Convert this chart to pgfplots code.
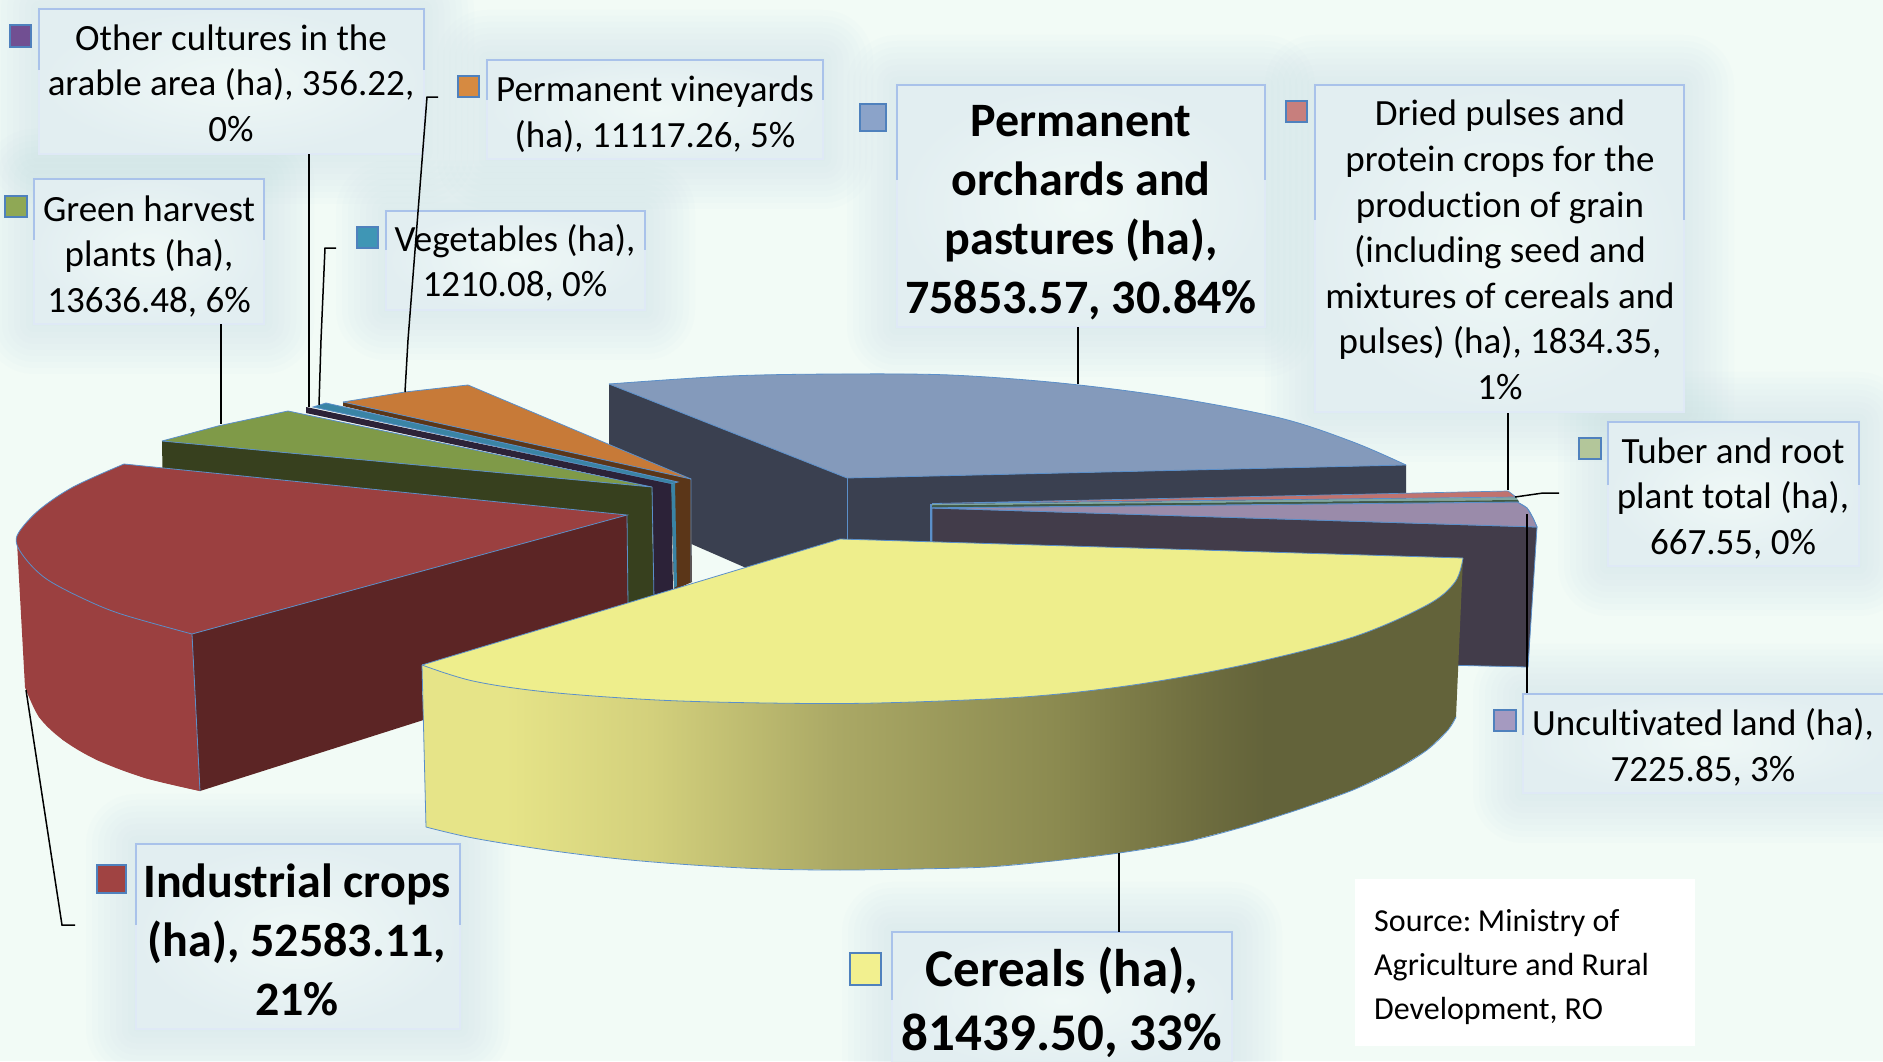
\documentclass[border=0pt]{standalone}
\usepackage{pgfplots}
\pgfplotsset{compat=1.18}
\usepackage{fontspec}
\setmainfont{Carlito}[Ligatures=NoCommon]
\definecolor{bgc}{HTML}{F2FBF6}
\definecolor{glowc}{HTML}{C4DCE6}
\definecolor{boxc}{HTML}{EFF8F6}
\definecolor{boxo}{HTML}{E2EEF1}
\definecolor{boxtop}{HTML}{A9C2EA}
\definecolor{boxbot}{HTML}{DFE9F6}
\definecolor{edgeb}{HTML}{5B8FC9}
\definecolor{redtop}{HTML}{9B4040}
\definecolor{reddark}{HTML}{5C2525}
\definecolor{greentop}{HTML}{7F9A48}
\definecolor{greendark}{HTML}{37401E}
\definecolor{browndark}{HTML}{5B3618}
\definecolor{orangetop}{HTML}{C77A38}
\definecolor{vegblue}{HTML}{3A84A5}
\definecolor{purpledark}{HTML}{2C2238}
\definecolor{orchtop}{HTML}{849ABB}
\definecolor{orchdark}{HTML}{3A4050}
\definecolor{lilatop}{HTML}{9A8BAA}
\definecolor{liladark}{HTML}{423C4A}
\definecolor{yeltop}{HTML}{EEEE8C}
\definecolor{ya}{HTML}{E6E488}
\definecolor{yb}{HTML}{D3D07C}
\definecolor{yc}{HTML}{AAA865}
\definecolor{yd}{HTML}{8B8A50}
\definecolor{ye}{HTML}{6E6D3F}
\definecolor{yf}{HTML}{63633A}
\definecolor{pinkc}{HTML}{C0736F}
\definecolor{sliver}{HTML}{7FA6A0}
\definecolor{sliverg}{HTML}{3F5A45}
\definecolor{kpurple}{HTML}{714F92}
\definecolor{korange}{HTML}{D68A41}
\definecolor{kgreen}{HTML}{8FA855}
\definecolor{kblue}{HTML}{3F96B5}
\definecolor{korch}{HTML}{8BA3C9}
\definecolor{kpink}{HTML}{C77F7D}
\definecolor{ktuber}{HTML}{B3C69A}
\definecolor{klila}{HTML}{A59AC0}
\definecolor{kred}{HTML}{A04342}
\definecolor{kyel}{HTML}{F2F08F}
\definecolor{kedge}{HTML}{4F81BD}
\pgfdeclarehorizontalshading{yside}{100bp}{color(0bp)=(ya);color(25bp)=(ya);color(29bp)=(ya);color(36bp)=(yb);color(45bp)=(yc);color(55.5bp)=(yd);color(62.5bp)=(ye);color(65.5bp)=(yf);color(100bp)=(yf)}
\newcommand\glow[4]{\foreach \d in {50,44,38,32,26,20,14,8,2}{\fill[glowc,opacity=0.05,rounded corners=\d pt] ({(#1-\d)*1pt},{(1061-#2+\d)*1pt}) rectangle ({(#3+\d)*1pt},{(1061-#4-\d)*1pt});}}
\newcommand\poly[2]{\addplot[fill=#1,draw=none,forget plot] coordinates {#2} --cycle;}
\newcommand\polye[2]{\addplot[fill=#1,draw=edgeb,line width=.8pt,forget plot] coordinates {#2} --cycle;}
\newcommand\arcf[2]{\addplot[fill=#1,draw=edgeb,line width=.8pt,smooth,tension=.55,forget plot] coordinates {#2};}
\newcommand\edgel[1]{\addplot[draw=edgeb,line width=.8pt,forget plot] coordinates {#1};}
\newcommand\leader[1]{\addplot[draw=black,line width=1.5pt,forget plot] coordinates {#1};}
\newcommand\sq[5]{\addplot[fill=#1,draw=kedge,line width=1.4pt,forget plot] coordinates {(#2,#3)(#4,#3)(#4,#5)(#2,#5)} --cycle;}
\newcommand\boxx[5]{\addplot[shade,inner color=boxc,outer color=boxo,draw=none,forget plot] coordinates {(#1,#2)(#3,#2)(#3,#4)(#1,#4)} --cycle;
\addplot[draw=boxbot,line width=1.5pt,forget plot] coordinates {(#3,#2)(#3,#4)(#1,#4)(#1,#2)};
\addplot[draw=boxtop,line width=1.5pt,forget plot] coordinates {(#1,#5)(#1,#2)(#3,#2)(#3,#5)};}
\newcommand\lab[3]{\node[align=center,inner sep=0pt,font=\fontsize{37}{45.6}\selectfont] at (axis cs:#1,#2) {#3};}
\newcommand\labb[5]{\node[align=center,inner sep=0pt,font=\fontsize{#3}{#4}\selectfont\bfseries] at (axis cs:#1,#2) {#5};}
\begin{document}
\begin{tikzpicture}[x=1pt,y=1pt]
\path[use as bounding box] (0,0) rectangle (1883,1061);
\clip (0,0) rectangle (1883,1061);
\fill[bgc] (0,0) rectangle (1883,1061);
\glow{39}{9}{424}{154}
\glow{487}{60}{823}{159}
\glow{34}{179}{264}{324}
\glow{386}{211}{645}{310}
\glow{897}{85}{1265}{327}
\glow{1315}{85}{1684}{412}
\glow{1608}{422}{1859}{566}
\glow{1523}{694}{1890}{793}
\glow{136}{844}{460}{1029}
\glow{892}{932}{1232}{1070}
\begin{axis}[at={(0pt,0pt)},anchor=south west,scale only axis,width=1883pt,height=1061pt,
  xmin=0,xmax=1883,ymin=0,ymax=1061,y dir=reverse,hide axis,clip=false]
% ---- Permanent orchards
\poly{orchdark}{(609,384)(847,478)(847,612)(609,508)}
\poly{orchdark}{(847,478)(1406,465)(1406,600)(847,612)}
\edgel{(847,478)(847,545)}
\poly{orchtop}{(847,478)(609,384)(730,376)(840,374)(950,375)(1060,383)(1170,397)(1280,418)(1353,442)(1406,465)}
\arcf{orchtop}{(609,384)(730,376)(840,374)(950,375)(1060,383)(1170,397)(1280,418)(1353,442)(1406,465)}
\edgel{(609,384)(847,478)(1406,465)}
% ---- Uncultivated land
\polye{liladark}{(932,508)(1537,527)(1528,667)(1400,664)(932,600)}
\arcf{lilatop}{(1517,502)(1527,508)(1533,518)(1537,527)}
\polye{lilatop}{(932,508)(1517,502)(1527,508)(1533,518)(1537,527)}
\addplot[draw=edgeb,line width=2pt,forget plot] coordinates {(931,504)(931,545)};
% ---- thin slices: pulses, tuber
\poly{sliver}{(932,504)(1516,497)(1518,500)(932,505.5)}
\poly{sliverg}{(932,505.5)(1518,500)(1519,502)(932,507.5)}
\addplot[draw=edgeb,line width=.8pt,forget plot] coordinates {(932,507.8)(1519,502)};
\addplot[fill=pinkc,draw=edgeb,line width=.7pt,forget plot] coordinates {(932,503.5)(1508,491)(1516,497)} --cycle;
% ---- Permanent vineyards
\poly{browndark}{(343,402)(691,479)(692,582)(674,590)(671,483)(343,406)}
\poly{orangetop}{(343,402)(405,392)(468,385)(691,479)}
\edgel{(343,402)(691,479)(691,582)}
\edgel{(343,402)(405,392)(468,385)(691,479)}
% ---- Vegetables
\polye{vegblue}{(313,407)(326,403)(678,482)(671,484)}
\poly{vegblue}{(671,484)(675,483)(677,586)(674,588)}
% ---- Other cultures
\poly{purpledark}{(306,407)(671,484)(674,640)(653,640)(653,487)(306,413)}
% ---- Green harvest
\poly{greendark}{(162,441)(652,487)(654,640)(164,560)}
\poly{greentop}{(162,441)(218,426)(288,411)(652,487)}
\edgel{(162,441)(218,426)(288,411)(652,487)(162,441)}
\edgel{(652,487)(654,600)}
% ---- Industrial crops
\addplot[fill=redtop,draw=none,forget plot] coordinates {(17,542)(29,563)(48,580)(82,598)(121,614)(192,634)(200,791)(145,778)(97,760)(63,740)(39,717)(25,687)} --cycle;
\addplot[fill=redtop,draw=none,smooth,tension=.55,forget plot] coordinates {(25,687)(39,717)(63,740)(97,760)(145,778)(200,791)};
\poly{reddark}{(192,634)(200,791)(628,655)(627,515)}
\edgel{(192,634)(200,791)}
\edgel{(627,515)(628,605)}
\poly{redtop}{(627,515)(124,464)(73,487)(39,510)(19,532)(17,542)(29,563)(48,580)(82,598)(121,614)(192,634)}
\arcf{redtop}{(124,464)(73,487)(39,510)(19,532)(17,545)(29,563)(48,580)(82,598)(121,614)(192,634)}
\edgel{(124,464)(627,515)(192,634)}
% ---- Cereals
\addplot[shade,shading=yside,draw=none,forget plot] coordinates {(422,665)(426,827)(473,838)(547,850)(620,859)(693,865)(767,869)(840,870)(915,869)(987,867)(1053,861)(1119,853)(1185,842)(1243,827)(1300,809)(1353,790)(1395,770)(1427,750)(1448,730)(1456,717)(1463,558)} --cycle;
\addplot[draw=edgeb,line width=.8pt,smooth,tension=.55,forget plot] coordinates {(426,827)(473,838)(547,850)(620,859)(693,865)(767,869)(840,870)(915,869)(987,867)(1053,861)(1119,853)(1185,842)(1243,827)(1300,809)(1353,790)(1395,770)(1427,750)(1448,730)(1456,717)};
\edgel{(422,665)(426,827)}
\poly{yeltop}{(840,539)(422,665)(473,681)(547,692)(657,700)(767,703)(877,703)(1023,697)(1133,685)(1243,665)(1353,637)(1427,605)(1455,582)(1463,558)}
\arcf{yeltop}{(422,665)(473,681)(547,692)(657,700)(767,703)(877,703)(1023,697)(1133,685)(1243,665)(1353,637)(1427,605)(1455,582)(1463,558)}
\edgel{(422,665)(840,539)(1463,558)}
% ---- label boxes
\boxx{39}{9}{424}{154}{70}
\boxx{487}{60}{823}{159}{100}
\boxx{34}{179}{264}{324}{240}
\boxx{386}{211}{645}{310}{250}
\boxx{897}{85}{1265}{327}{180}
\boxx{1315}{85}{1684}{412}{220}
\boxx{1608}{422}{1859}{566}{485}
\boxx{1523}{694}{1890}{793}{735}
\boxx{136}{844}{460}{1029}{925}
\boxx{892}{932}{1232}{1070}{1000}
\addplot[fill=white,draw=none,forget plot] coordinates {(1355,879)(1695,879)(1695,1046)(1355,1046)} --cycle;
% ---- legend keys
\sq{kpurple}{10}{25}{31}{47}
\sq{korange}{458}{76}{479}{97}
\sq{kgreen}{5}{196}{27}{217}
\sq{kblue}{357}{227}{378}{248}
\sq{korch}{860}{104}{886}{131}
\sq{kpink}{1286}{101}{1307}{122}
\sq{ktuber}{1579}{438}{1601}{459}
\sq{klila}{1494}{710}{1516}{731}
\sq{kred}{97}{865}{126}{893}
\sq{kyel}{850}{953}{881}{985}
% ---- leader lines
\leader{(221,324)(221,424)}
\leader{(309,154)(309,407)}
\leader{(336,248)(325,248)(321,340)(319,405)}
\leader{(438,97)(427,97)(408,340)(405,392)}
\leader{(1078,327)(1078,384)}
\leader{(1508,413)(1508,490)}
\leader{(1559,493)(1543,493)(1515,497)}
\leader{(1527,514)(1527,693)}
\leader{(1119,853)(1119,932)}
\leader{(26,690)(62,925)(75,925)}
% ---- texts
\lab{231}{83}{Other cultures in the\\arable area (ha), 356.22,\\0\%}
\lab{655}{114.5}{Permanent vineyards\\(ha), 11117.26, 5\%}
\lab{149}{256.5}{Green harvest\\plants (ha),\\13636.48, 6\%}
\lab{515}{263}{Vegetables (ha),\\1210.08, 0\%}
\lab{1500}{250}{Dried pulses and\\protein crops for the\\production of grain\\(including seed and\\mixtures of cereals and\\pulses) (ha), 1834.35,\\1\%}
\lab{1733}{498.5}{Tuber and root\\plant total (ha),\\667.55, 0\%}
\lab{1703}{747.5}{Uncultivated land (ha),\\7225.85, 3\%}
\labb{1081}{213}{48}{59}{Permanent\\orchards and\\pastures (ha),\\75853.57, 30.84\%}
\labb{297}{940}{48}{59}{Industrial crops\\(ha), 52583.11,\\21\%}
\labb{1062}{1002.5}{53}{64}{Cereals (ha),\\81439.50, 33\%}
\node[align=left,anchor=west,inner sep=0pt,font=\fontsize{32}{44}\selectfont] at (axis cs:1374,967) {Source:\hspace{-3pt} Ministry of\\Agriculture and Rural\\Development, RO};
\end{axis}
\end{tikzpicture}
\end{document}
